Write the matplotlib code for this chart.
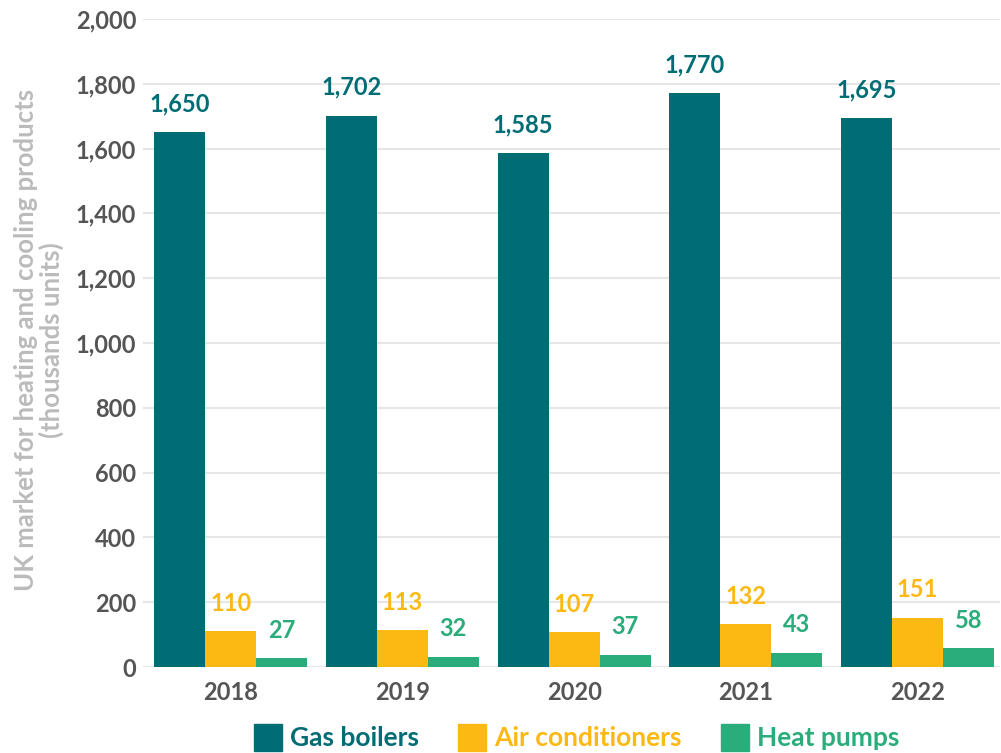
import matplotlib.pyplot as plt
from matplotlib.patches import Patch
import numpy as np

years = ["2018", "2019", "2020", "2021", "2022"]
gas_boilers = [1650, 1702, 1585, 1770, 1695]
air_conditioners = [110, 113, 107, 132, 151]
heat_pumps = [27, 32, 37, 43, 58]
series_names = ["Gas boilers", "Air conditioners", "Heat pumps"]

colors = ["#006D75", "#FDB913", "#2AAD7A"]
plt.rcParams['font.family'] = ['Lato', 'DejaVu Sans']

fig = plt.figure(figsize=(10.01, 7.53), dpi=100)
ax = fig.add_axes([0.143, 0.1142, 0.856, 0.8606])

x = np.arange(len(years))
w = 0.297
for i, (vals, c) in enumerate(zip([gas_boilers, air_conditioners, heat_pumps], colors)):
    pos = x + (i - 1) * w
    ax.bar(pos, vals, width=w, color=c, zorder=3)
    for p, v in zip(pos, vals):
        ax.annotate(f"{v:,}", (p, v), xytext=(0, 12), textcoords="offset points",
                    ha="center", va="bottom", color=c, fontsize=17, fontweight="bold")

ax.set_xlim(-0.51, 4.48)
ax.set_ylim(0, 2000)
ax.set_yticks(range(0, 2001, 200))
ax.set_yticklabels([f"{v:,}" for v in range(0, 2001, 200)])
ax.set_xticks(x)
ax.set_xticklabels(years)
ax.tick_params(axis="both", length=0, labelsize=17, labelcolor="#555555")
ax.tick_params(axis="y", pad=5)
ax.tick_params(axis="x", pad=10)
for lab in ax.get_xticklabels() + ax.get_yticklabels():
    lab.set_fontweight("bold")
ax.grid(axis="y", color="#E6E6E6", linewidth=1.5, zorder=0)
for s in ax.spines.values():
    s.set_visible(False)

ax.set_ylabel("UK market for heating and cooling products\n(thousands units)",
              color="#BBBBBB", fontsize=18.5, fontweight="bold", linespacing=1.05)
ax.yaxis.set_label_coords(-0.092, 0.505)

handles = [Patch(color=c) for c in colors]
leg = fig.legend(handles, series_names, loc="center", bbox_to_anchor=(0.576, 0.021),
                 ncol=3, frameon=False, handlelength=1.06, handleheight=1.2,
                 columnspacing=1.5, handletextpad=0.3, borderpad=0,
                 prop={"size": 19, "weight": "bold"})
for t, c in zip(leg.get_texts(), colors):
    t.set_color(c)

fig.savefig("out.png", dpi=100)
